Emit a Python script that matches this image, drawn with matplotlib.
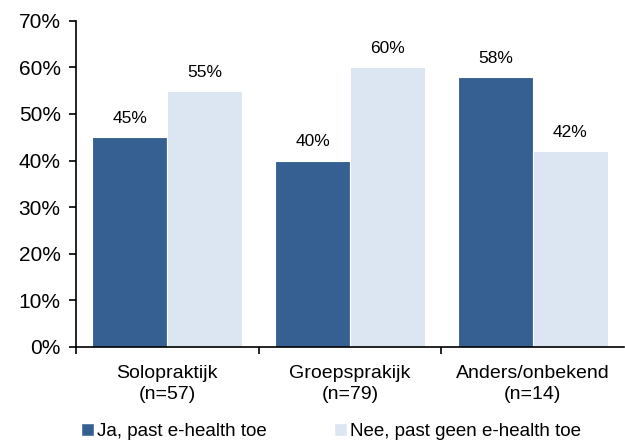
import numpy as np
import matplotlib.pyplot as plt
from matplotlib.patches import Patch

# Data
categories = ['Solopraktijk\n(n=57)', 'Groepsprakijk\n(n=79)', 'Anders/onbekend\n(n=14)']
ja_values = [45, 40, 58]
nee_values = [55, 60, 42]
series_names = ['Ja, past e-health toe', 'Nee, past geen e-health toe']
yticks = [0, 10, 20, 30, 40, 50, 60, 70]

dark = '#376092'
light = '#DCE6F2'

plt.rcParams['font.family'] = ['Liberation Sans', 'DejaVu Sans']

fig = plt.figure(figsize=(6.25, 4.43), dpi=100)
ax = fig.add_axes([0.1216, 0.217, 0.877, 0.736])

x = np.arange(len(categories))
w = 0.41
b1 = ax.bar(x - w / 2, ja_values, w, color=dark, edgecolor='white', linewidth=0.8)
b2 = ax.bar(x + w / 2, nee_values, w, color=light, edgecolor='white', linewidth=0.8)

# Data labels
for bars, vals in [(b1, ja_values), (b2, nee_values)]:
    for rect, v in zip(bars, vals):
        ax.annotate(f'{v}%', (rect.get_x() + rect.get_width() / 2, v),
                    xytext=(0, 8), textcoords='offset points',
                    ha='center', va='bottom', fontsize=12.5)

ax.set_xlim(-0.5, 2.5)
ax.set_ylim(0, 70)
ax.set_yticks(yticks)
ax.set_yticklabels([f'{t}%' for t in yticks], fontsize=15)
ax.tick_params(axis='y', direction='out', length=5, width=1.2, pad=6)

# Category labels centered, tick marks on group boundaries
ax.set_xticks(x)
ax.set_xticklabels(categories, fontsize=14, linespacing=1.35)
ax.tick_params(axis='x', which='major', length=0, pad=13)
ax.set_xticks([-0.5, 0.5, 1.5], minor=True)
ax.tick_params(axis='x', which='minor', direction='out', length=5, width=1.2)

for side in ['top', 'right']:
    ax.spines[side].set_visible(False)
ax.spines['left'].set_linewidth(1.2)
ax.spines['bottom'].set_linewidth(1.2)

# Legend
handles = [Patch(facecolor=dark, edgecolor='white'), Patch(facecolor=light, edgecolor='white')]
fig.legend(handles, series_names, loc='lower left', bbox_to_anchor=(0.129, 0.006),
           ncol=2, frameon=False, fontsize=13.5, handlelength=0.7, handleheight=0.7,
           handletextpad=0.15, columnspacing=3.6, borderaxespad=0, borderpad=0.0)

fig.savefig('out.png', dpi=100)
